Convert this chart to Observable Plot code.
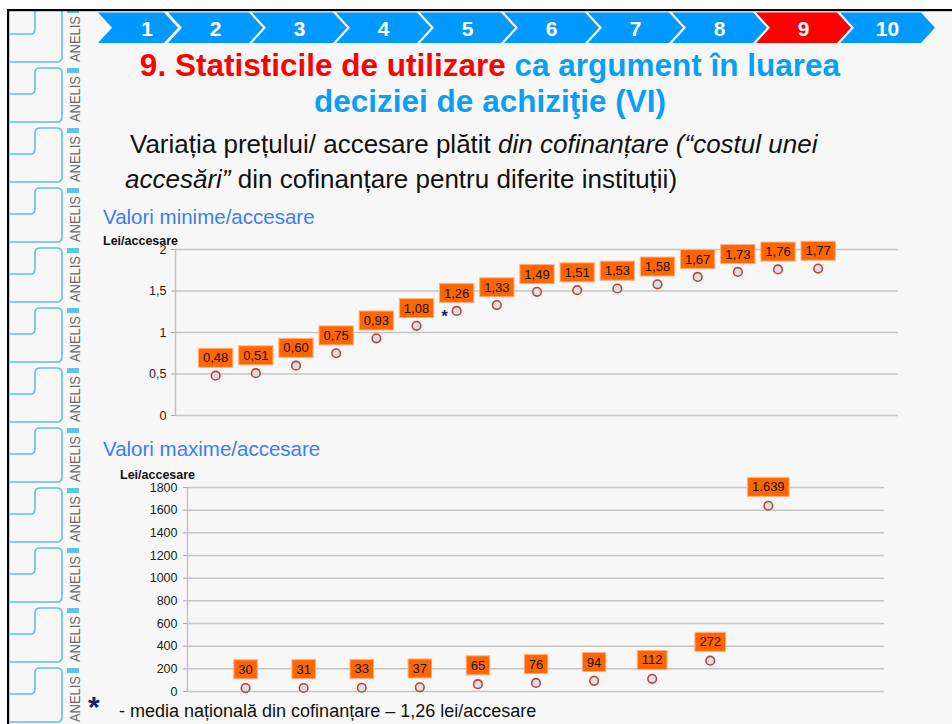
<!DOCTYPE html>
<html>
<head>
<meta charset="utf-8">
<script src="https://cdn.jsdelivr.net/npm/d3@7"></script>
<script src="https://cdn.jsdelivr.net/npm/@observablehq/plot@0.6"></script>
<style>
  html, body { margin: 0; padding: 0; background: #ffffff; }
  #page { position: relative; width: 952px; height: 724px; overflow: hidden; font-family: "Liberation Sans", Arial, sans-serif; }
  #page > svg, #page > div { position: absolute; }
</style>
</head>
<body>
<div id="page"></div>
<script>
// ---------- data ----------
const navSteps = ["1", "2", "3", "4", "5", "6", "7", "8", "9", "10"];
const activeStep = "9";
const minValues = [0.48, 0.51, 0.60, 0.75, 0.93, 1.08, 1.26, 1.33, 1.49, 1.51, 1.53, 1.58, 1.67, 1.73, 1.76, 1.77];
const minTicks = [0, 0.5, 1, 1.5, 2];
const nationalMean = 1.26;
const maxValues = [30, 31, 33, 37, 65, 76, 94, 112, 272, 1639];
const maxTicks = [0, 200, 400, 600, 800, 1000, 1200, 1400, 1600, 1800];
const yUnit = "Lei/accesare";

const ro = d3.formatLocale({decimal: ",", thousands: ".", grouping: [3], currency: ["", " lei"]});
const page = document.getElementById("page");
const FONT = "Liberation Sans, Arial, sans-serif";

// ---------- slide frame, navigation, titles ----------
const W = 952, H = 724;
const s = d3.select(page).append("svg").attr("width", W).attr("height", H).style("left", "0px").style("top", "0px");
s.append("rect").attr("x", 8).attr("y", 10).attr("width", W - 8).attr("height", H - 10).attr("fill", "#f7f7f7");
// left decorative strip
const deco = s.append("g");
s.append("clipPath").attr("id", "decoClip").append("rect").attr("x", 9).attr("y", 11).attr("width", 80).attr("height", H);
deco.attr("clip-path", "url(#decoClip)");
for (let T = 8; T < H; T += 60) {
  deco.append("path")
    .attr("d", `M10,${T+26} H30 Q35,${T+26} 35,${T+21} V${T+5} Q35,${T} 40,${T} H57 Q62,${T} 62,${T+5} V${T+49} Q62,${T+54} 57,${T+54} H10`)
    .attr("fill", "none").attr("stroke", "#62bde2").attr("stroke-width", 1.6);
  deco.append("rect").attr("x", 67).attr("y", T).attr("width", 12).attr("height", 5).attr("fill", "#5cc6ea");
  deco.append("text").attr("transform", `translate(79.5,${T+54}) rotate(-90)`)
    .attr("font-family", FONT).attr("font-size", 14).attr("fill", "#6a6a6a")
    .attr("textLength", 46).attr("lengthAdjust", "spacingAndGlyphs").text("ANELIS");
}
s.append("rect").attr("x", 7).attr("y", 9).attr("width", 2.2).attr("height", H).attr("fill", "#000");
s.append("rect").attr("x", 7).attr("y", 9).attr("width", W).attr("height", 2.2).attr("fill", "#000");

// navigation chevrons
const navTop = 12.5, navBot = 43, navMid = (navTop + navBot) / 2, tip = 14;
navSteps.forEach((lab, k) => {
  const L = k === 0 ? 98 : 168 + (k - 1) * 84;
  const R = k === 0 ? 164 : L + 81;
  const col = lab === activeStep ? "#ff0000" : "#0099ff";
  s.append("path")
    .attr("d", `M${L},${navTop} H${R} L${R+tip},${navMid} L${R},${navBot} H${L} L${L+tip},${navMid} Z`)
    .attr("fill", col);
  s.append("text").attr("x", k === 0 ? 147 : (L + R) / 2 + 7).attr("y", 35.5)
    .attr("text-anchor", "middle").attr("font-family", FONT).attr("font-weight", "bold")
    .attr("font-size", 21).attr("fill", "#fff").text(lab);
});

// title
const t1 = s.append("text").attr("x", 490).attr("y", 76).attr("text-anchor", "middle")
  .attr("font-family", FONT).attr("font-weight", "bold").attr("font-size", 31.5);
t1.append("tspan").attr("fill", "#ff0000").text("9. Statisticile de utilizare ");
t1.append("tspan").attr("fill", "#0a9ff5").text("ca argument în luarea");
s.append("text").attr("x", 490).attr("y", 112).attr("text-anchor", "middle")
  .attr("font-family", FONT).attr("font-weight", "bold").attr("font-size", 31.5)
  .attr("fill", "#0a9ff5").text("deciziei de achiziţie (VI)");

// subtitle
const st1 = s.append("text").attr("x", 130).attr("y", 153).attr("font-family", FONT).attr("font-size", 26).attr("fill", "#111");
st1.append("tspan").text("Variația prețului/ accesare plătit ");
st1.append("tspan").attr("font-style", "italic").text("din cofinanțare (“costul unei");
const st2 = s.append("text").attr("x", 125).attr("y", 188).attr("font-family", FONT).attr("font-size", 26).attr("fill", "#111");
st2.append("tspan").attr("font-style", "italic").text("accesări”");
st2.append("tspan").text(" din cofinanțare pentru diferite instituții)");

// chart headings
s.append("text").attr("x", 103).attr("y", 224).attr("font-family", FONT).attr("font-size", 20.5).attr("fill", "#3c7df5").text("Valori minime/accesare");
s.append("text").attr("x", 103).attr("y", 245).attr("font-family", FONT).attr("font-size", 12.5).attr("font-weight", "bold").attr("fill", "#111").text(yUnit);
s.append("text").attr("x", 103).attr("y", 456).attr("font-family", FONT).attr("font-size", 20.5).attr("fill", "#3c7df5").text("Valori maxime/accesare");
s.append("text").attr("x", 120).attr("y", 479).attr("font-family", FONT).attr("font-size", 12.5).attr("font-weight", "bold").attr("fill", "#111").text(yUnit);

// footnote
s.append("text").attr("x", 88).attr("y", 717).attr("font-family", FONT).attr("font-size", 30).attr("font-weight", "bold").attr("fill", "#14206b").text("*");
s.append("text").attr("x", 119).attr("y", 717).attr("font-family", FONT).attr("font-size", 18).attr("fill", "#111")
  .text("- media națională din cofinanțare – 1,26 lei/accesare");

// ---------- charts ----------
const commonStyle = {background: "transparent", fontFamily: FONT, fontSize: "12.5px", color: "#222", overflow: "visible"};
const gridColor = "#c4c4c4";

// draw an orange box behind every value label (first text mark of the chart)
function boxLabels(svg) {
  const g = svg.querySelector('g[aria-label="text"]');
  if (!g) return;
  g.querySelectorAll("text").forEach(t => {
    const bb = t.getBBox();
    const r = document.createElementNS("http://www.w3.org/2000/svg", "rect");
    r.setAttribute("x", bb.x - 4.5);
    r.setAttribute("y", bb.y + bb.height / 2 - 9.5);
    r.setAttribute("width", bb.width + 9);
    r.setAttribute("height", 19);
    r.setAttribute("fill", "#ff6600");
    r.setAttribute("stroke", "#ffb080");
    r.setAttribute("stroke-width", 1);
    if (t.getAttribute("transform")) r.setAttribute("transform", t.getAttribute("transform"));
    t.parentNode.insertBefore(r, t);
  });
}

const minData = minValues.map((v, i) => ({i: i + 1, v}));
const chart1 = Plot.plot({
  width: 818, height: 190,
  marginLeft: 75, marginRight: 20, marginTop: 14, marginBottom: 10,
  x: {domain: [0, 18], axis: null},
  y: {domain: [0, 2]},
  style: commonStyle,
  marks: [
    Plot.ruleY(minTicks, {stroke: gridColor, strokeWidth: 1.5}),
    Plot.ruleX([0], {stroke: gridColor, strokeWidth: 1.5}),
    Plot.axisY({ticks: minTicks, tickFormat: ro.format("~g"), tickSize: 4, tickPadding: 5, stroke: "#aaa", fill: "#222", label: null, fontSize: 12.5}),
    Plot.dot(minData, {x: "i", y: "v", r: 4.3, fill: "#c9e6e8", stroke: "#d03a3a", strokeWidth: 1.6}),
    Plot.text(minData, {x: "i", y: "v", text: d => ro.format(".2f")(d.v), dy: -17.5, fontSize: 13, fill: "#111"}),
    Plot.text(minData.filter(d => d.v === nationalMean), {x: "i", y: "v", text: () => "*", dx: -12, dy: 6, fontSize: 17, fontWeight: "bold", fill: "#1a2470"})
  ]
});
chart1.style.left = "100px"; chart1.style.top = "235px"; chart1.style.position = "absolute";
page.appendChild(chart1);
boxLabels(chart1);

const maxData = maxValues.map((v, i) => ({i: i + 1, v}));
const chart2 = Plot.plot({
  width: 804, height: 226,
  marginLeft: 87, marginRight: 20, marginTop: 12, marginBottom: 10,
  x: {domain: [0, 12], axis: null},
  y: {domain: [0, 1800]},
  style: commonStyle,
  marks: [
    Plot.ruleY(maxTicks, {stroke: gridColor, strokeWidth: 1.5}),
    Plot.ruleX([0], {stroke: gridColor, strokeWidth: 1.5}),
    Plot.axisY({ticks: maxTicks, tickFormat: d3.format("d"), tickSize: 4, tickPadding: 6, stroke: "#aaa", fill: "#222", label: null, fontSize: 12.5}),
    Plot.dot(maxData, {x: "i", y: "v", r: 4.3, fill: "#c9e6e8", stroke: "#d03a3a", strokeWidth: 1.6}),
    Plot.text(maxData, {x: "i", y: "v", text: d => ro.format(",")(d.v), dy: -18.5, fontSize: 13, fill: "#111"})
  ]
});
chart2.style.left = "100px"; chart2.style.top = "475px"; chart2.style.position = "absolute";
page.appendChild(chart2);
boxLabels(chart2);
</script>
</body>
</html>
